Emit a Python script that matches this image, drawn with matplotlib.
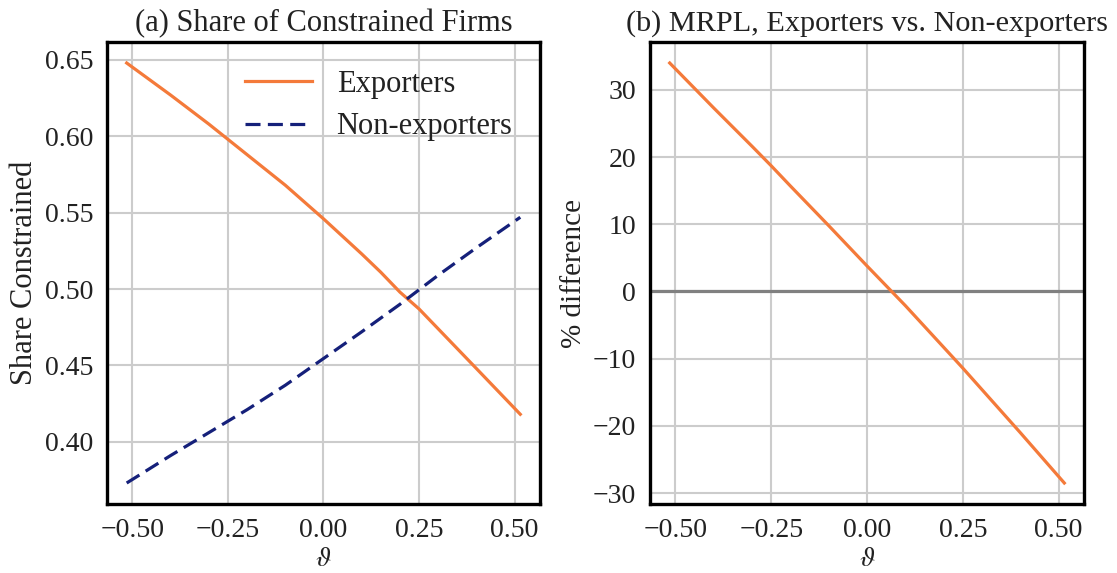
import matplotlib
matplotlib.use('Agg')
from matplotlib import pyplot as plt

# values
theta = [-0.515, -0.4, -0.3, -0.25, -0.2, -0.1, 0.0, 0.1, 0.15, 0.2, 0.25, 0.3, 0.4, 0.515]
exporters = [0.648, 0.627, 0.608, 0.598, 0.588, 0.568, 0.546, 0.523, 0.511, 0.498, 0.487, 0.474, 0.448, 0.418]
non_exporters = [0.373, 0.391, 0.406, 0.4135, 0.421, 0.437, 0.4545, 0.472, 0.481, 0.490, 0.4995, 0.509, 0.527, 0.547]
mrpl_diff = [34.0, 27.3, 21.6, 18.7, 15.7, 9.8, 3.8, -2.1, -5.2, -8.3, -11.4, -14.6, -21.0, -28.5]

xticks = [-0.50, -0.25, 0.00, 0.25, 0.50]
yticks_a = [0.40, 0.45, 0.50, 0.55, 0.60, 0.65]
yticks_b = [-30, -20, -10, 0, 10, 20, 30]

orange = '#f47a3a'
navy = '#15207a'
txt = '#222222'


def fmt(v):
    return ('%.2f' % v).replace('-', '\u2212')


plt.rcParams['font.family'] = ['Liberation Serif', 'DejaVu Serif']
plt.rcParams['mathtext.fontset'] = 'stix'
plt.rcParams['font.size'] = 19

fig = plt.figure(figsize=(11.17, 5.73), dpi=100)
ax1 = fig.add_axes([0.0958, 0.1204, 0.3876, 0.8063])
ax2 = fig.add_axes([0.5819, 0.1204, 0.3886, 0.8063])

for ax in (ax1, ax2):
    ax.grid(True, color='#cccccc', linewidth=1.5)
    ax.set_axisbelow(True)
    for s in ax.spines.values():
        s.set_color('black')
        s.set_linewidth(2.4)
    ax.tick_params(length=0, pad=10, labelsize=20, colors=txt)
    ax.set_xticks(xticks)
    ax.set_xticklabels([fmt(v) for v in xticks])
    ax.set_xlabel(r'$\vartheta$', fontsize=20, color=txt, labelpad=3)

ax1.plot(theta, exporters, color=orange, linewidth=2.3, label='Exporters')
ax1.plot(theta, non_exporters, color=navy, linewidth=2.3, linestyle='--', dashes=(4.7, 2.3), label='Non-exporters')
ax1.set_yticks(yticks_a)
ax1.set_yticklabels([fmt(v) for v in yticks_a])
ax1.set_ylabel('Share Constrained', fontsize=22, color=txt)
ax1.set_title('(a) Share of Constrained Firms', fontsize=22, color=txt, pad=8)
ax1.legend(loc='upper right', frameon=False, fontsize=22, handlelength=2.2,
           labelspacing=0.45, borderaxespad=0.5, labelcolor=txt)

ax2.axhline(0, color='#808080', linewidth=2.3, zorder=1)
ax2.plot(theta, mrpl_diff, color=orange, linewidth=2.3, zorder=2)
ax2.set_yticks(yticks_b)
ax2.set_ylabel('% difference', fontsize=21, color=txt)
ax2.set_title('(b) MRPL, Exporters vs. Non-exporters', fontsize=21.8, color=txt, pad=8)

plt.savefig('out.png', dpi=100)
